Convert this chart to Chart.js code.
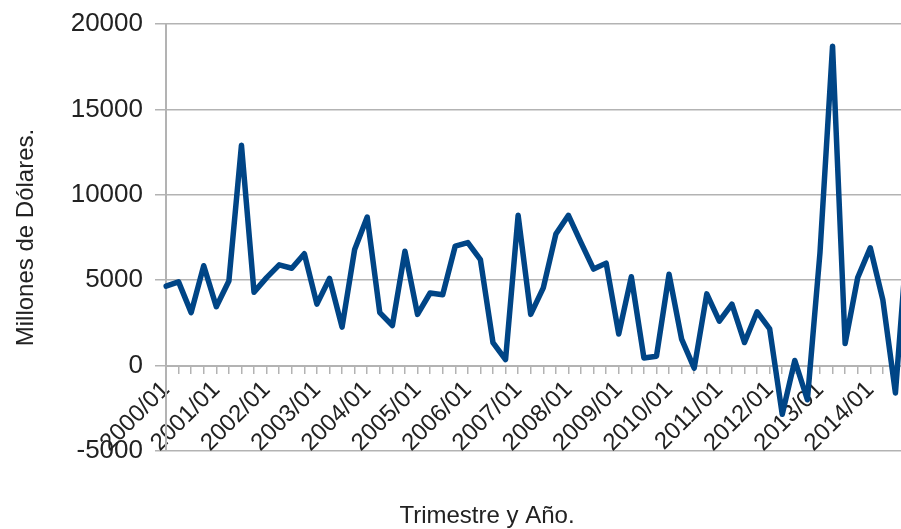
<!DOCTYPE html>
<html lang="es">
<head>
<meta charset="utf-8">
<title>Inversión trimestral</title>
<script src="https://cdn.jsdelivr.net/npm/chart.js@4.4.1/dist/chart.umd.min.js"></script>
<style>
  html, body { margin: 0; padding: 0; background: #ffffff; overflow: hidden; }
  #wrap { width: 912px; height: 529px; }
</style>
</head>
<body>
<div id="wrap"><canvas id="grafico" width="912" height="529"></canvas></div>
<script>
// Trimestres (año/trimestre)
const trimestres = [
  "2000/01","2000/02","2000/03","2000/04",
  "2001/01","2001/02","2001/03","2001/04",
  "2002/01","2002/02","2002/03","2002/04",
  "2003/01","2003/02","2003/03","2003/04",
  "2004/01","2004/02","2004/03","2004/04",
  "2005/01","2005/02","2005/03","2005/04",
  "2006/01","2006/02","2006/03","2006/04",
  "2007/01","2007/02","2007/03","2007/04",
  "2008/01","2008/02","2008/03","2008/04",
  "2009/01","2009/02","2009/03","2009/04",
  "2010/01","2010/02","2010/03","2010/04",
  "2011/01","2011/02","2011/03","2011/04",
  "2012/01","2012/02","2012/03","2012/04",
  "2013/01","2013/02","2013/03","2013/04",
  "2014/01","2014/02","2014/03","2014/04"
];

// Millones de dólares por trimestre
const millones = [
  4650, 4900, 3100, 5850,
  3450, 4950, 12900, 4300,
  5150, 5900, 5700, 6550,
  3600, 5100, 2250, 6800,
  8700, 3100, 2350, 6700,
  3000, 4250, 4150, 7000,
  7200, 6200, 1350, 350,
  8800, 3000, 4550, 7700,
  8800, 7200, 5650, 6000,
  1850, 5200, 450, 550,
  5350, 1550, -150, 4200,
  2600, 3600, 1350, 3150,
  2150, -2850, 300, -2000,
  6600, 18700, 1300, 5150,
  6900, 3850, -1600, 8000
];

// Escala vertical
const ejeY = { min: -5000, max: 20000, paso: 5000 };

const tituloX = "Trimestre y Año.";
const tituloY = "Millones de Dólares.";

const FUENTE = "'Liberation Sans', Arial, sans-serif";
const GRIS = "#b3b3b3";
const TEXTO = "#222222";

// Título del eje horizontal, centrado bajo el gráfico
const rotuloInferior = {
  id: 'rotuloInferior',
  afterDraw(chart) {
    const ctx = chart.ctx;
    ctx.save();
    ctx.font = "24px " + FUENTE;
    ctx.fillStyle = TEXTO;
    ctx.textAlign = 'center';
    ctx.textBaseline = 'middle';
    ctx.fillText(tituloX, 487, 516);
    ctx.restore();
  }
};

new Chart(document.getElementById('grafico'), {
  type: 'line',
  data: {
    labels: trimestres,
    datasets: [{
      data: millones,
      borderColor: '#004586',
      borderWidth: 5.5,
      borderJoinStyle: 'round',
      borderCapStyle: 'round',
      pointRadius: 0,
      tension: 0,
      fill: false
    }]
  },
  options: {
    responsive: false,
    animation: false,
    layout: { padding: { top: 24, bottom: 78, right: 4, left: 0 } },
    plugins: {
      legend: { display: false },
      tooltip: { enabled: false }
    },
    scales: {
      x: {
        type: 'category',
        position: { y: 0 },
        offset: false,
        // las etiquetas giradas no reservan margen lateral
        afterFit: (scale) => {
          scale.paddingLeft = 0;
          scale.paddingRight = 0;
          scale.paddingTop = 0;
          scale.paddingBottom = 0;
        },
        grid: {
          drawOnChartArea: false,
          drawTicks: true,
          tickLength: 7,
          color: GRIS,
          lineWidth: 1.5
        },
        border: { display: true, color: GRIS, width: 2 },
        ticks: {
          autoSkip: false,
          minRotation: 45,
          maxRotation: 45,
          padding: 3,
          color: TEXTO,
          font: { family: FUENTE, size: 24 },
          callback: function (value) {
            const etiqueta = this.getLabelForValue(value);
            return etiqueta.endsWith('/01') ? etiqueta : '';
          }
        }
      },
      y: {
        min: ejeY.min,
        max: ejeY.max,
        afterFit: (scale) => {
          scale.width = 166;
          scale.paddingTop = 0;
          scale.paddingBottom = 0;
        },
        grid: {
          color: GRIS,
          lineWidth: 1.5,
          drawTicks: true,
          tickLength: 11
        },
        border: { display: true, color: GRIS, width: 2 },
        ticks: {
          stepSize: ejeY.paso,
          padding: 12,
          color: TEXTO,
          font: { family: FUENTE, size: 26 },
          callback: (v) => String(v)
        },
        title: {
          display: true,
          text: tituloY,
          color: TEXTO,
          font: { family: FUENTE, size: 24 },
          padding: { top: 12, bottom: 0 }
        }
      }
    }
  },
  plugins: [rotuloInferior]
});
</script>
</body>
</html>
